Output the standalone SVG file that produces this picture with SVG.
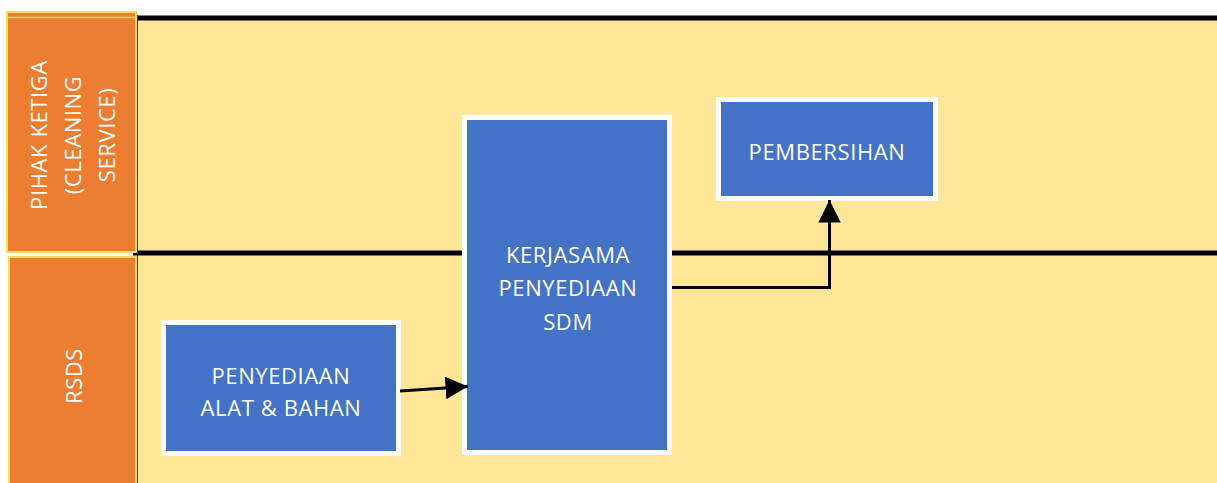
<svg xmlns="http://www.w3.org/2000/svg" width="1217" height="483" viewBox="0 0 1217 483">
<defs>
<style>
.lbl{fill:#ED7D31;stroke:#FFD966;stroke-width:2}
.box{fill:#4472C4;stroke:#FFFFFF;stroke-width:5}
.t{font-family:"Open Sans","Noto Sans","Liberation Sans",sans-serif;font-size:22px;fill:#FFFFFF;text-anchor:middle;letter-spacing:0.6px}
.bar{stroke:#000000;stroke-width:5}
.conn{stroke:#000000;stroke-width:3;fill:none}
</style>
<marker id="ah" viewBox="0 0 10 10" refX="10" refY="5" markerWidth="7.5" markerHeight="7.5" markerUnits="strokeWidth" orient="auto">
<path d="M0,0 L10,5 L0,10 Z" fill="#000000"/>
</marker>
</defs>
<rect x="0" y="0" width="1217" height="483" fill="#FFFFFF"/>
<rect x="138" y="18" width="1079" height="465" fill="#FFE699"/>
<g id="lanes">
<line class="bar" x1="138" y1="18" x2="1217" y2="18"/>
<line class="bar" x1="133" y1="253" x2="1217" y2="253"/>
<line x1="137.5" y1="15" x2="137.5" y2="483" stroke="#333333" stroke-width="1"/>
</g>
<g id="lane-pihak-ketiga">
<rect class="lbl" x="7" y="12" width="129" height="240"/>
<line x1="8" y1="17.5" x2="135" y2="17.5" stroke="#FFD966" stroke-width="1.5"/>
<g transform="translate(0,135) rotate(-90)">
<text class="t" x="0" y="47">PIHAK KETIGA</text>
<text class="t" x="0" y="81">(CLEANING</text>
<text class="t" x="0" y="115">SERVICE)</text>
</g>
</g>
<g id="lane-rsds">
<rect class="lbl" x="9" y="257" width="127" height="230"/>
<g transform="translate(0,376) rotate(-90)">
<text class="t" x="0" y="82">RSDS</text>
</g>
</g>
<g id="node-penyediaan">
<rect class="box" x="163.5" y="322.5" width="235" height="131"/>
<text class="t" x="281" y="384">PENYEDIAAN</text>
<text class="t" x="281" y="416">ALAT &amp; BAHAN</text>
</g>
<g id="node-kerjasama">
<rect class="box" x="464.5" y="117.5" width="205" height="335"/>
<text class="t" x="568" y="263">KERJASAMA</text>
<text class="t" x="568" y="296">PENYEDIAAN</text>
<text class="t" x="568" y="330">SDM</text>
</g>
<g id="node-pembersihan">
<rect class="box" x="718.5" y="99.5" width="217" height="99"/>
<text class="t" x="827" y="160">PEMBERSIHAN</text>
</g>
<g id="connectors">
<line class="conn" x1="400" y1="391" x2="468" y2="386.5" marker-end="url(#ah)"/>
<polyline class="conn" points="672,287.5 829.5,287.5 829.5,200" marker-end="url(#ah)"/>
</g>
</svg>
